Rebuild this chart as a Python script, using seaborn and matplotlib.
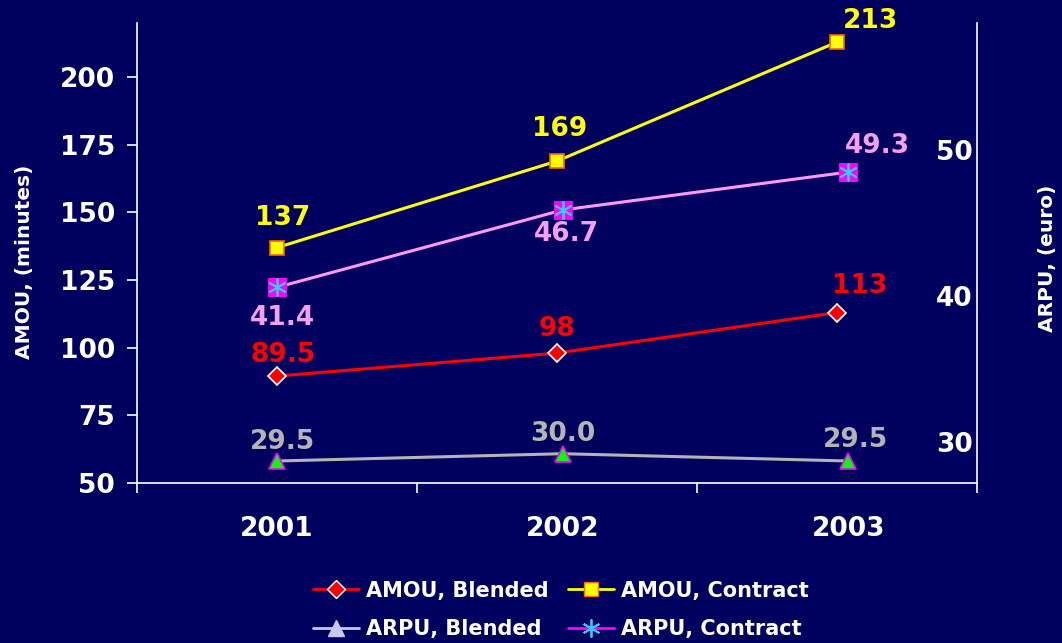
import numpy as np
import pandas as pd
import seaborn as sns
import matplotlib.pyplot as plt
from matplotlib.lines import Line2D
from matplotlib.transforms import ScaledTranslation

years = ["2001", "2002", "2003"]
amou_blended = [89.5, 98, 113]
amou_contract = [137, 169, 213]
arpu_blended = [29.5, 30.0, 29.5]
arpu_contract = [41.4, 46.7, 49.3]

bg = "#00005f"
white = "white"

sns.set_style("ticks")
plt.rcParams["font.family"] = ["DejaVu Sans"]
plt.rcParams["font.weight"] = "bold"

x = np.arange(len(years))
df = pd.DataFrame({"x": x, "year": years,
                   "amou_blended": amou_blended, "amou_contract": amou_contract,
                   "arpu_blended": arpu_blended, "arpu_contract": arpu_contract})

fig = plt.figure(figsize=(10.62, 6.43), dpi=100)
fig.patch.set_facecolor(bg)
rect = [0.129, 0.249, 0.791, 0.715]
ax = fig.add_axes(rect)
ax2 = fig.add_axes(rect, facecolor="none")
ax.set_facecolor(bg)

# AMOU on the left axis
sns.lineplot(data=df, x="x", y="amou_blended", ax=ax, color="#ff0000", lw=2.2,
             marker="D", markersize=9, markerfacecolor="#ff0000", markeredgecolor="white",
             markeredgewidth=1.2)
sns.lineplot(data=df, x="x", y="amou_contract", ax=ax, color="#ffff00", lw=2.2,
             marker="s", markersize=10.5, markerfacecolor="#ffff00", markeredgecolor="#ff6600",
             markeredgewidth=1.2)

# ARPU on the right axis
sns.lineplot(data=df, x="x", y="arpu_blended", ax=ax2, color="#b4b4b4", lw=2.2,
             marker="^", markersize=11, markerfacecolor="#00ff00", markeredgecolor="#ff00ff",
             markeredgewidth=1.2)
sns.lineplot(data=df, x="x", y="arpu_contract", ax=ax2, color="#ff99ff", lw=2.2,
             marker="s", markersize=13, markerfacecolor="#ff00ff", markeredgecolor="#ff00ff")
sns.scatterplot(data=df, x="x", y="arpu_contract", ax=ax2, marker=(6, 2, 0), s=150,
                color="#33ccff", linewidth=1.3, zorder=5)

ax.set_xlim(-0.5, 2.5)
ax.set_ylim(50, 220)
ax2.set_xlim(-0.49, 2.45)
ax2.set_ylim(28, 59.5)

# left axis styling
for s in ["top", "right"]:
    ax.spines[s].set_visible(False)
for s in ["left", "bottom"]:
    ax.spines[s].set_color(white)
    ax.spines[s].set_linewidth(1.2)
ax.set_yticks(range(50, 201, 25))
ax.tick_params(axis="y", colors=white, labelsize=19, length=7, width=1.2, pad=9)
ax.set_xticks([-0.5, 0.5, 1.5, 2.5])
ax.set_xticklabels([])
ax.tick_params(axis="x", colors=white, length=7, width=1.2, direction="out")
ax.set_xlabel("")
ax.set_ylabel("")

# right axis styling
for s in ["top", "left", "bottom"]:
    ax2.spines[s].set_visible(False)
ax2.spines["right"].set_color(white)
ax2.spines["right"].set_linewidth(1.2)
ax2.yaxis.tick_right()
ax2.set_yticks([30, 40, 50])
ax2.tick_params(axis="y", colors=white, labelsize=19, length=0, pad=-3)
for lab in ax2.get_yticklabels():
    lab.set_horizontalalignment("right")
    # the labels in the original sit a little above their values
    lab.set_transform(lab.get_transform() + ScaledTranslation(0, 0.12, fig.dpi_scale_trans))
ax2.set_xticks(x)
ax2.set_xticklabels(years)
ax2.tick_params(axis="x", colors=white, labelsize=19, length=0, pad=24)
ax2.set_xlabel("")
ax2.set_ylabel("")

fig.text(25 / 1062, 1 - 262 / 643, "AMOU, (minutes)", rotation=90, ha="center", va="center",
         color=white, fontsize=14.5, fontweight="bold")
fig.text(1047 / 1062, 1 - 258 / 643, "ARPU, (euro)", rotation=90, ha="center", va="center",
         color=white, fontsize=14.5, fontweight="bold")

# data labels (offsets in points)
def put_labels(axis, vals, fmt, color, offsets):
    for i, v in enumerate(vals):
        dx, dy = offsets[i]
        axis.annotate(fmt(v), (x[i], v), xytext=(dx, dy), textcoords="offset points",
                      ha="center", va="center", color=color, fontsize=19, fontweight="bold")

put_labels(ax, amou_blended, lambda v: f"{v:g}", "#ff0000", [(4, 15), (0, 17), (16, 19)])
put_labels(ax, amou_contract, lambda v: f"{v:g}", "#ffff00", [(4, 21), (2, 23), (24, 15)])
put_labels(ax2, arpu_blended, lambda v: f"{v:.1f}", "#b4b4b4", [(4, 14), (0, 14), (5, 15)])
put_labels(ax2, arpu_contract, lambda v: f"{v:.1f}", "#f5a0f5", [(4, -22), (3, -17), (21, 19)])

h_ab = Line2D([], [], color="#ff0000", lw=2, marker="D", markersize=9,
              markerfacecolor="#ff0000", markeredgecolor="white")
h_ac = Line2D([], [], color="#ffff00", lw=2, marker="s", markersize=10,
              markerfacecolor="#ffff00", markeredgecolor="#ff6600")
h_rb = Line2D([], [], color="#c8c8f0", lw=2, marker="^", markersize=11,
              markerfacecolor="#c8c8f0", markeredgecolor="#c8c8f0")
h_rc = Line2D([], [], color="#ff00ff", lw=2, marker=(6, 2, 0), markersize=13,
              markeredgecolor="#33ccff", markeredgewidth=1.3)
handles = [h_ab, h_rb, h_ac, h_rc]
labels = ["AMOU, Blended", "ARPU, Blended", "AMOU, Contract", "ARPU, Contract"]
leg = fig.legend(handles, labels, ncol=2, loc="center", bbox_to_anchor=(561 / 1062, 1 - 610 / 643),
                 frameon=False, fontsize=15, handlelength=2.2, handletextpad=0.35,
                 columnspacing=0.9, labelspacing=0.9)
for t in leg.get_texts():
    t.set_color(white)
    t.set_fontweight("bold")

plt.savefig("out.png", dpi=100, facecolor=bg)
